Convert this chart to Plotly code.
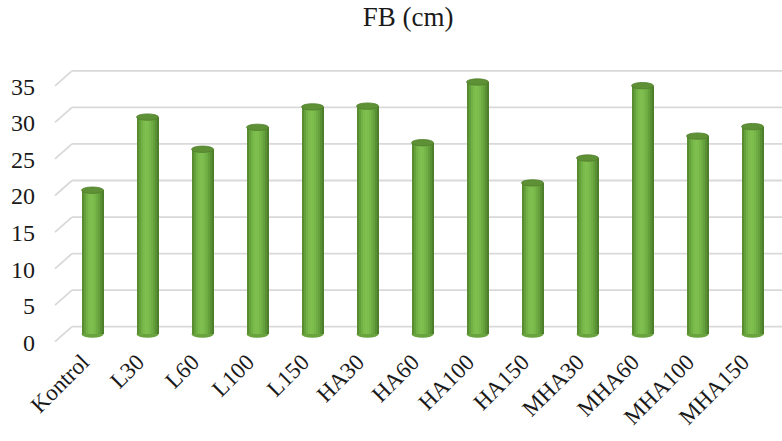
import plotly.graph_objects as go

# FB (cm) per treatment
categories = ["Kontrol", "L30", "L60", "L100", "L150", "HA30", "HA60",
              "HA100", "HA150", "MHA30", "MHA60", "MHA100", "MHA150"]
fb_cm = [19.7, 29.7, 25.3, 28.3, 31.1, 31.2, 26.2, 34.5, 20.7, 24.1, 34.0, 27.1, 28.4]
y_ticks = [0, 5, 10, 15, 20, 25, 30, 35]

# cylinder shading, left edge to right edge
shade = ["#578d30", "#65a13b", "#72b145", "#7bbb4c", "#7fbf50", "#7dbd4e",
         "#77b649", "#6fac43", "#64a03b", "#599033", "#4d7e2b"]

BAR_W = 0.4          # bar width in category units
DEPTH_X = 17         # px, floor depth horizontally
DEPTH_Y = 7.5        # px, half floor depth vertically
GRID = "#d9d9d9"
FONT = "Liberation Serif"

fig = go.Figure()

n = len(shade)
for i, c in enumerate(shade):
    fig.add_trace(go.Bar(
        x=categories, y=fb_cm,
        width=BAR_W / n + 0.004,
        offset=-BAR_W / 2 + i * BAR_W / n,
        marker=dict(color=c, line=dict(width=0)),
        showlegend=False, hoverinfo="skip",
    ))

shapes = []
# back-wall gridlines and floor diagonals
for v in y_ticks:
    shapes.append(dict(
        type="line", layer="below",
        xref="paper", x0=DEPTH_X / 727, x1=1,
        yref="y", ysizemode="pixel", yanchor=v, y0=DEPTH_Y, y1=DEPTH_Y,
        line=dict(color=GRID, width=1.8),
    ))
    shapes.append(dict(
        type="line", layer="below",
        xref="paper", xsizemode="pixel", xanchor=0, x0=0, x1=DEPTH_X,
        yref="y", ysizemode="pixel", yanchor=v, y0=-DEPTH_Y, y1=DEPTH_Y,
        line=dict(color=GRID, width=1.8),
    ))

# cylinder bottoms and tops
for cat, v in zip(categories, fb_cm):
    shapes.append(dict(
        type="circle", layer="below",
        xref="x", xsizemode="pixel", xanchor=cat, x0=-11, x1=11,
        yref="y", ysizemode="pixel", yanchor=0, y0=-3.5, y1=3.5,
        fillcolor="#68a33e", line=dict(width=0),
    ))
    shapes.append(dict(
        type="circle", layer="above",
        xref="x", xsizemode="pixel", xanchor=cat, x0=-11, x1=11,
        yref="y", ysizemode="pixel", yanchor=v, y0=-3.2, y1=3.2,
        fillcolor="#5e9035", line=dict(color="#507f2c", width=0.8),
    ))

k = 7.31       # px per unit
zero_px = 334.2
top_px, bottom_px = 60, 343

fig.update_layout(
    width=782, height=441,
    margin=dict(l=55, r=0, t=top_px, b=441 - bottom_px),
    paper_bgcolor="white", plot_bgcolor="white",
    barmode="overlay", bargap=0,
    shapes=shapes,
    title=dict(text="FB (cm)", x=408 / 782, xanchor="center",
               y=1 - 17 / 441, yanchor="middle", yref="container",
               font=dict(family=FONT, size=27, color="#1a1a1a")),
    xaxis=dict(
        type="category", range=[-0.682, 12.536],
        showgrid=False, zeroline=False, showline=False, ticks="",
        tickangle=-45, ticklabelshift=-10,
        tickfont=dict(family=FONT, size=23, color="#1a1a1a"),
    ),
    yaxis=dict(
        range=[(zero_px - bottom_px) / k, (zero_px - top_px) / k],
        tickvals=y_ticks, showgrid=False, zeroline=False, showline=False,
        ticks="", ticklabelstandoff=19, ticklabelshift=8,
        tickfont=dict(family=FONT, size=24, color="#1a1a1a"),
    ),
)

fig.write_html("out.html")
